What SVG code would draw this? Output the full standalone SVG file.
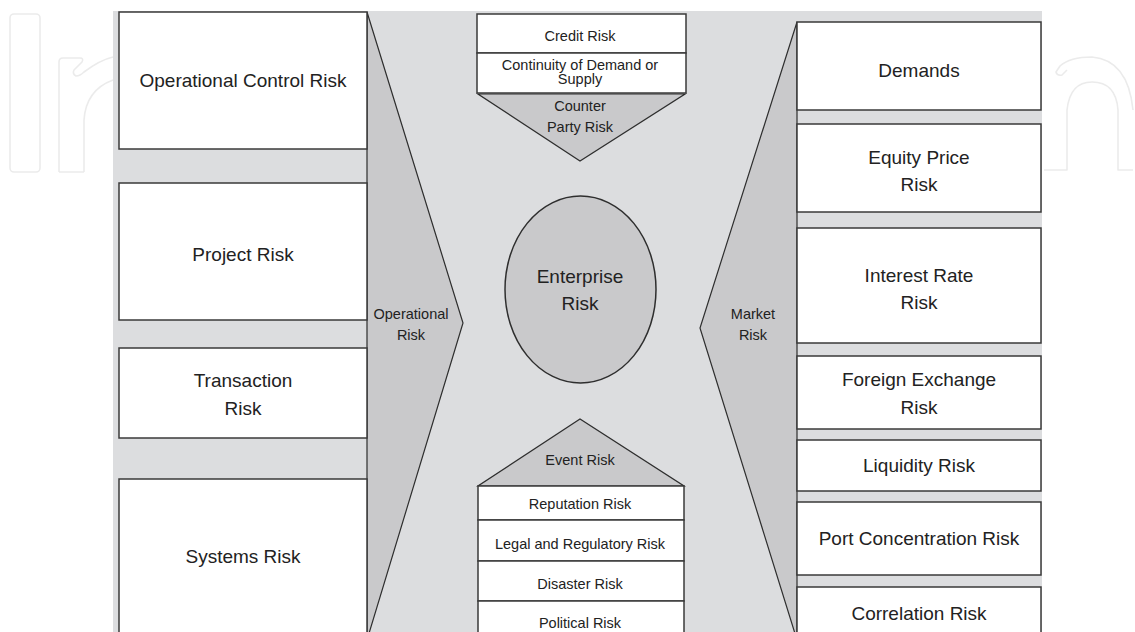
<svg xmlns="http://www.w3.org/2000/svg" width="1135" height="632" viewBox="0 0 1135 632">
<style>
.wm{fill:none;stroke:#ebebeb;stroke-width:1.6;stroke-linejoin:round}
.box{fill:#ffffff;stroke:#3a3a3a;stroke-width:1.5}
.shape{fill:#c9c9cb;stroke:#2e2e2e;stroke-width:1.2}
.big{font-family:"Liberation Sans",Arial,sans-serif;font-size:19px;fill:#222;text-anchor:middle}
.small{font-family:"Liberation Sans",Arial,sans-serif;font-size:14.5px;fill:#222;text-anchor:middle}
</style>
<rect width="1135" height="632" fill="#ffffff"/>
<g id="watermark">
<rect class="wm" x="10" y="14" width="30" height="158" rx="4"/>
<path class="wm" d="M59,172 L59,62 Q59,58 63,58 L80,58 Q84,58 82,62 L74,70 Q72,74 76,76 Q80,76 84,72 Q100,60 113,57 M84,172 L84,120 Q86,90 113,80 M59,172 L84,172"/>
<path class="wm" d="M1044,170 L1067,170 L1067,110 Q1070,82 1092,82 Q1116,82 1118,110 L1118,170 L1133,170 M1133,110 Q1128,60 1092,57 Q1070,57 1060,66 L1056,72 Q1057,76 1062,75 L1067,70"/>
</g>
<rect id="panel" x="113" y="11" width="929" height="621" fill="#dcdddf"/>
<g id="operational-risk">
<polygon class="shape" points="367,12 463,323 367,640"/>
<text class="small" x="411" y="319">Operational</text>
<text class="small" x="411" y="340">Risk</text>
</g>
<g id="market-risk">
<polygon class="shape" points="797,22 700,328 797,640"/>
<text class="small" x="753" y="319">Market</text>
<text class="small" x="753" y="340">Risk</text>
</g>
<g id="operational-control-risk">
<rect class="box" x="119" y="12" width="248" height="137"/>
<text class="big" x="243" y="87">Operational Control Risk</text>
</g>
<g id="project-risk">
<rect class="box" x="119" y="183" width="248" height="137"/>
<text class="big" x="243" y="261">Project Risk</text>
</g>
<g id="transaction-risk">
<rect class="box" x="119" y="348" width="248" height="90"/>
<text class="big" x="243" y="387">Transaction</text>
<text class="big" x="243" y="415">Risk</text>
</g>
<g id="systems-risk">
<rect class="box" x="119" y="479" width="248" height="170"/>
<text class="big" x="243" y="563">Systems Risk</text>
</g>
<g id="demands">
<rect class="box" x="797" y="22" width="244" height="88"/>
<text class="big" x="919" y="77">Demands</text>
</g>
<g id="equity-price-risk">
<rect class="box" x="797" y="124" width="244" height="88"/>
<text class="big" x="919" y="164">Equity Price</text>
<text class="big" x="919" y="191">Risk</text>
</g>
<g id="interest-rate-risk">
<rect class="box" x="797" y="228" width="244" height="115"/>
<text class="big" x="919" y="282">Interest Rate</text>
<text class="big" x="919" y="309">Risk</text>
</g>
<g id="foreign-exchange-risk">
<rect class="box" x="797" y="356" width="244" height="73"/>
<text class="big" x="919" y="386">Foreign Exchange</text>
<text class="big" x="919" y="414">Risk</text>
</g>
<g id="liquidity-risk">
<rect class="box" x="797" y="440" width="244" height="51"/>
<text class="big" x="919" y="472">Liquidity Risk</text>
</g>
<g id="port-concentration-risk">
<rect class="box" x="797" y="502" width="244" height="73"/>
<text class="big" x="919" y="545">Port Concentration Risk</text>
</g>
<g id="correlation-risk">
<rect class="box" x="797" y="587" width="244" height="60"/>
<text class="big" x="919" y="620">Correlation Risk</text>
</g>
<g id="enterprise-risk">
<ellipse cx="580.5" cy="289.5" rx="75.5" ry="93.5" fill="#c9c9cb" stroke="#2e2e2e" stroke-width="1.5"/>
<text class="big" x="580" y="283">Enterprise</text>
<text class="big" x="580" y="310">Risk</text>
</g>
<g id="counter-party-risk">
<polygon class="shape" points="478,94 685,94 580,161"/>
<text class="small" x="580" y="111">Counter</text>
<text class="small" x="580" y="132">Party Risk</text>
</g>
<g id="credit-risk">
<rect class="box" x="477" y="14" width="209" height="39"/>
<text class="small" x="580" y="41">Credit Risk</text>
</g>
<g id="continuity-risk">
<rect class="box" x="477" y="53" width="209" height="40"/>
<text class="small" x="580" y="70">Continuity of Demand or</text>
<text class="small" x="580" y="84">Supply</text>
</g>
<g id="event-risk">
<polygon class="shape" points="478,486 684,486 580,419"/>
<text class="small" x="580" y="465">Event Risk</text>
</g>
<g id="reputation-risk">
<rect class="box" x="478" y="486" width="206" height="34"/>
<text class="small" x="580" y="509">Reputation Risk</text>
</g>
<g id="legal-regulatory-risk">
<rect class="box" x="478" y="520" width="206" height="41"/>
<text class="small" x="580" y="549">Legal and Regulatory Risk</text>
</g>
<g id="disaster-risk">
<rect class="box" x="478" y="561" width="206" height="40"/>
<text class="small" x="580" y="589">Disaster Risk</text>
</g>
<g id="political-risk">
<rect class="box" x="478" y="601" width="206" height="45"/>
<text class="small" x="580" y="628">Political Risk</text>
</g>
<g id="connectors"/>
</svg>
